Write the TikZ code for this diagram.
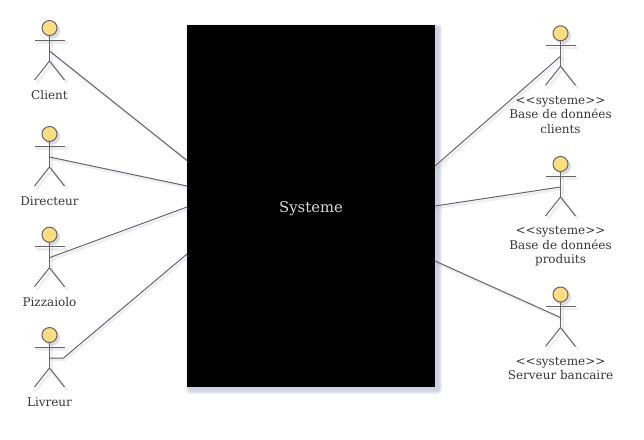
\documentclass[tikz,border=0pt]{standalone}
\usepackage{fontspec}
\setmainfont{DejaVu Serif}
\usetikzlibrary{calc}
\definecolor{headfill}{HTML}{FEDD82}
\definecolor{linegray}{HTML}{666666}
\definecolor{shadowblue}{HTML}{8088A8}
\tikzset{
    umlline/.style={draw=linegray, line width=1pt},
    softline/.style={draw=shadowblue, opacity=0.14, line width=2.6pt, line cap=round, line join=round},
    actorlabel/.style={align=center, font=\fontsize{12}{14.5}\selectfont, text=black!78, anchor=north, inner sep=0pt},
}
\begin{document}
\begin{tikzpicture}[x=1pt, y=-1pt]
    \useasboundingbox (0, 0) rectangle (644, 439);
    % soft shadow of the box
    \foreach \w in {1, 2, 3, 4} {
        \fill[shadowblue, opacity=0.11, rounded corners=\w pt]
            (190-\w, 28-\w) rectangle (438+\w, 390+\w);
    }
    \node[fill=black, text=black!15, minimum width=248pt, minimum height=362pt,
        inner sep=0pt, text height=13pt, text depth=0pt, font=\fontsize{14.8}{18}\selectfont] (systeme) at (311, 206) {Systeme};
    \coordinate (portClient) at (187, 160.5);
    \coordinate (portDirecteur) at (187, 186);
    \coordinate (portPizzaiolo) at (187, 207);
    \coordinate (portLivreur) at (187, 254);
    \coordinate (portBaseClients) at (435, 166);
    \coordinate (portBaseProduits) at (435, 206);
    \coordinate (portServeur) at (435, 261);
    % actors
    \foreach \n/\x/\y/\t in {
        client/49.5/28/{Client},
        directeur/49.5/134/{Directeur},
        pizzaiolo/49.5/234.7/{Pizzaiolo},
        livreur/49.5/335/{Livreur},
        baseClients/560.5/33.3/{<{}<systeme>{}>\\Base de données\\clients},
        baseProduits/560.5/164/{<{}<systeme>{}>\\Base de données\\produits},
        serveur/560.5/294.5/{<{}<systeme>{}>\\Serveur bancaire}} {
        \coordinate (\n) at (\x, \y+23);
        \node[actorlabel] (\n Label) at (\x, \y+62.5) {\t};
        \foreach \s in {0, 1} {
            \ifnum\s=0
                \tikzset{actorpen/.style={softline}}
                \def\dd{2.5}
            \else
                \tikzset{actorpen/.style={umlline}}
                \def\dd{0}
            \fi
            \begin{scope}[shift={(\dd, \dd)}]
                \draw[actorpen] (\x, \y+7.5) -- (\x, \y+33);
                \draw[actorpen] (\x-15, \y+12) -- (\x+15, \y+12);
                \draw[actorpen] (\x-15, \y+52) -- (\x, \y+33) -- (\x+15, \y+52);
                \ifnum\s=0
                    \fill[shadowblue, opacity=0.3] (\x, \y) circle (8pt);
                \else
                    \draw[umlline, fill=headfill] (\x, \y) circle (7.5pt);
                \fi
            \end{scope}
        }
    }
    % associations
    \foreach \a/\b in {client/portClient, directeur/portDirecteur, pizzaiolo/portPizzaiolo,
        baseClients/portBaseClients, baseProduits/portBaseProduits, serveur/portServeur} {
        \draw[softline] ($(\a)+(2, 2)$) -- ($(\b)+(2, 2)$);
        \draw[umlline] (\a) -- (\b);
    }
    \draw[softline] ($(livreur)+(2, 1.5)$) -- ++(14, 0) -- ($(portLivreur)+(2, 2)$);
    \draw[umlline] (livreur) -- ++(14, 0) -- (portLivreur);
\end{tikzpicture}
\end{document}
